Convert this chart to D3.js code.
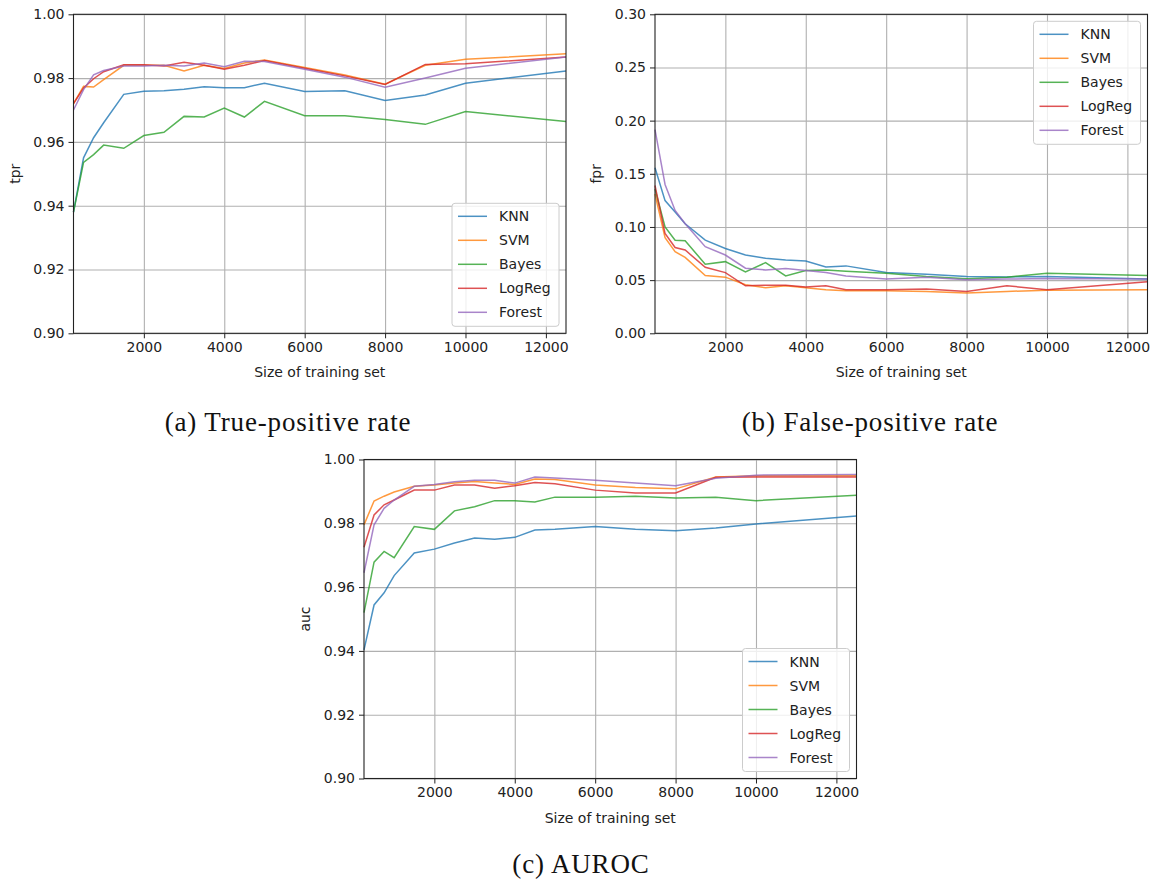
<!DOCTYPE html>
<html lang="en">
<head>
    <meta charset="UTF-8">
    <title>Learning curves</title>
    <script src="https://d3js.org/d3.v7.min.js"></script>
    <style>
        body { margin: 0; background: #fff; }
        svg text { font-family: "DejaVu Sans", sans-serif; fill: #222; }
        .caption { font-family: "Liberation Serif", serif; font-size: 27px; letter-spacing: 0.85px; fill: #111; }
    </style>
</head>
<body>
<div id="chart"></div>
<script>
    // training set sizes (x axis)
    const sizes = [250, 500, 750, 1000, 1500, 2000, 2500, 3000, 3500, 4000, 4500, 5000, 6000, 7000, 8000, 9000, 10000, 12500];
    const xTicks = [2000, 4000, 6000, 8000, 10000, 12000];
    const models = ["KNN", "SVM", "Bayes", "LogReg", "Forest"];
    const colors = ["#1f77b4", "#ff7f0e", "#2ca02c", "#d62728", "#9467bd"];

    // (a) true-positive rate
    const tprKnn    = [0.938, 0.955, 0.9613, 0.966, 0.9749, 0.9759, 0.976, 0.9765, 0.9773, 0.977, 0.977, 0.9784, 0.9758, 0.976, 0.973, 0.9747, 0.9784, 0.9822];
    const tprSvm    = [0.972, 0.9774, 0.9772, 0.9795, 0.984, 0.984, 0.984, 0.9822, 0.984, 0.983, 0.9847, 0.9857, 0.9833, 0.981, 0.9781, 0.984, 0.9859, 0.9876];
    const tprBayes  = [0.938, 0.9536, 0.956, 0.959, 0.958, 0.962, 0.963, 0.968, 0.9678, 0.9706, 0.9678, 0.9727, 0.9682, 0.9682, 0.967, 0.9655, 0.9695, 0.9664];
    const tprLogReg = [0.972, 0.9769, 0.9798, 0.982, 0.9842, 0.9842, 0.9838, 0.985, 0.984, 0.9828, 0.984, 0.9855, 0.9831, 0.9807, 0.978, 0.9843, 0.9845, 0.9866];
    const tprForest = [0.970, 0.9764, 0.981, 0.9824, 0.9838, 0.9838, 0.984, 0.9838, 0.9847, 0.9836, 0.9853, 0.9852, 0.9828, 0.9803, 0.9771, 0.980, 0.9831, 0.9866];
    const tprTicks  = [0.90, 0.92, 0.94, 0.96, 0.98, 1.00];

    // (b) false-positive rate
    const fprKnn    = [0.1556, 0.1248, 0.114, 0.103, 0.0876, 0.0798, 0.0736, 0.0705, 0.069, 0.068, 0.0624, 0.0634, 0.0571, 0.0556, 0.0534, 0.053, 0.0534, 0.051];
    const fprSvm    = [0.131, 0.090, 0.0767, 0.0714, 0.0543, 0.0528, 0.0457, 0.0429, 0.0447, 0.0429, 0.041, 0.040, 0.040, 0.0394, 0.0379, 0.0394, 0.0404, 0.041];
    const fprBayes  = [0.1357, 0.100, 0.0876, 0.087, 0.065, 0.0674, 0.0578, 0.0665, 0.054, 0.059, 0.0596, 0.0584, 0.0565, 0.0534, 0.0512, 0.0528, 0.0565, 0.0543];
    const fprLogReg = [0.139, 0.0938, 0.0807, 0.0783, 0.0621, 0.0571, 0.0447, 0.0453, 0.0453, 0.0435, 0.0447, 0.041, 0.041, 0.0416, 0.0394, 0.0447, 0.041, 0.0484];
    const fprForest = [0.1916, 0.140, 0.1155, 0.103, 0.0814, 0.0736, 0.0612, 0.0596, 0.0609, 0.059, 0.0571, 0.054, 0.051, 0.0528, 0.0503, 0.051, 0.0516, 0.051];
    const fprTicks  = [0.00, 0.05, 0.10, 0.15, 0.20, 0.25, 0.30];

    // (c) AUROC
    const aucKnn    = [0.9403, 0.9544, 0.9582, 0.9636, 0.9707, 0.9719, 0.9738, 0.9754, 0.975, 0.9756, 0.9779, 0.9781, 0.979, 0.9781, 0.9777, 0.9785, 0.9798, 0.9823];
    const aucSvm    = [0.9795, 0.987, 0.9885, 0.9898, 0.9916, 0.992, 0.9926, 0.9931, 0.9926, 0.9922, 0.9939, 0.9937, 0.992, 0.9912, 0.9908, 0.9945, 0.9949, 0.9949];
    const aucBayes  = [0.952, 0.9678, 0.9712, 0.9692, 0.979, 0.9781, 0.9839, 0.9852, 0.9871, 0.9871, 0.9867, 0.9882, 0.9882, 0.9885, 0.9879, 0.9882, 0.9871, 0.9888];
    const aucLogReg = [0.9725, 0.9826, 0.9858, 0.9873, 0.9904, 0.9904, 0.992, 0.992, 0.991, 0.9918, 0.9928, 0.9924, 0.9904, 0.9895, 0.9895, 0.9944, 0.9945, 0.9945];
    const aucForest = [0.9645, 0.9795, 0.9847, 0.9873, 0.9916, 0.9922, 0.993, 0.9935, 0.9935, 0.9926, 0.9945, 0.9942, 0.9935, 0.9926, 0.9918, 0.9941, 0.9951, 0.9953];
    const aucTicks  = [0.90, 0.92, 0.94, 0.96, 0.98, 1.00];

    const svg = d3.select("#chart").append("svg")
        .attr("width", 1152)
        .attr("height", 883);

    function drawPanel(opts) {
        const w = 492.5, h = 319;
        const g = svg.append("g").attr("transform", `translate(${opts.left},${opts.top})`);

        const x = d3.scaleLinear().domain([250, 12500]).range([0, w]);
        const y = d3.scaleLinear().domain(opts.yDomain).range([h, 0]);

        // grid
        g.append("g")
            .attr("transform", `translate(0,${h})`)
            .call(d3.axisBottom(x).tickValues(xTicks).tickSize(-h).tickFormat(""))
            .call(s => s.select(".domain").remove())
            .call(s => s.selectAll("line").attr("stroke", "#b0b0b0").attr("stroke-width", 1.1));
        g.append("g")
            .call(d3.axisLeft(y).tickValues(opts.yTicks).tickSize(-w).tickFormat(""))
            .call(s => s.select(".domain").remove())
            .call(s => s.selectAll("line").attr("stroke", "#b0b0b0").attr("stroke-width", 1.1));

        // lines
        const line = d3.line().x((d, i) => x(sizes[i])).y(d => y(d));
        opts.series.forEach((vals, k) => {
            g.append("path")
                .datum(vals)
                .attr("fill", "none")
                .attr("stroke", colors[k])
                .attr("stroke-opacity", 0.8)
                .attr("stroke-width", 1.5)
                .attr("d", line);
        });

        // frame
        g.append("rect")
            .attr("width", w).attr("height", h)
            .attr("fill", "none").attr("stroke", "#222").attr("stroke-width", 1.1);

        // axes
        g.append("g")
            .attr("transform", `translate(0,${h})`)
            .call(d3.axisBottom(x).tickValues(xTicks).tickSize(5).tickPadding(4).tickFormat(d3.format("d")))
            .call(s => s.select(".domain").remove())
            .call(s => s.selectAll("line").attr("stroke", "#222"))
            .call(s => s.selectAll("text").attr("font-size", 14).attr("font-family", "DejaVu Sans").attr("fill", "#222"));
        g.append("g")
            .call(d3.axisLeft(y).tickValues(opts.yTicks).tickSize(5).tickPadding(4).tickFormat(d3.format(".2f")))
            .call(s => s.select(".domain").remove())
            .call(s => s.selectAll("line").attr("stroke", "#222"))
            .call(s => s.selectAll("text").attr("font-size", 14).attr("font-family", "DejaVu Sans").attr("fill", "#222"));

        g.append("text")
            .attr("x", w / 2).attr("y", h + 44)
            .attr("text-anchor", "middle")
            .attr("font-size", 14)
            .text("Size of training set");
        g.append("text")
            .attr("transform", `translate(-54,${h / 2}) rotate(-90)`)
            .attr("text-anchor", "middle")
            .attr("font-size", 14)
            .text(opts.yLabel);

        // legend
        const lw = 107, lh = 123;
        const lx = w - 7 - lw;
        const ly = opts.legendTop ? 7 : h - 7 - lh;
        const leg = g.append("g").attr("transform", `translate(${lx},${ly})`);
        leg.append("rect")
            .attr("width", lw).attr("height", lh)
            .attr("rx", 3)
            .attr("fill", "#fff").attr("fill-opacity", 0.8)
            .attr("stroke", "#ccc").attr("stroke-width", 1);
        models.forEach((m, k) => {
            const cy = 13 + k * 24;
            leg.append("line")
                .attr("x1", 6).attr("x2", 35)
                .attr("y1", cy).attr("y2", cy)
                .attr("stroke", colors[k]).attr("stroke-opacity", 0.8).attr("stroke-width", 1.5);
            leg.append("text")
                .attr("x", 47).attr("y", cy + 5)
                .attr("font-size", 14)
                .text(m);
        });
    }

    drawPanel({left: 73.5, top: 14.3, yDomain: [0.90, 1.00], yTicks: tprTicks, yLabel: "tpr",
        series: [tprKnn, tprSvm, tprBayes, tprLogReg, tprForest], legendTop: false});
    drawPanel({left: 655, top: 14.3, yDomain: [0, 0.30], yTicks: fprTicks, yLabel: "fpr",
        series: [fprKnn, fprSvm, fprBayes, fprLogReg, fprForest], legendTop: true});
    drawPanel({left: 364, top: 459.5, yDomain: [0.90, 1.00], yTicks: aucTicks, yLabel: "auc",
        series: [aucKnn, aucSvm, aucBayes, aucLogReg, aucForest], legendTop: false});

    // sub-captions
    svg.append("text").attr("class", "caption").attr("x", 288).attr("y", 431).attr("text-anchor", "middle").text("(a) True-positive rate");
    svg.append("text").attr("class", "caption").attr("x", 870).attr("y", 431).attr("text-anchor", "middle").text("(b) False-positive rate");
    svg.append("text").attr("class", "caption").attr("x", 581).attr("y", 873).attr("text-anchor", "middle").text("(c) AUROC");
</script>
</body>
</html>
